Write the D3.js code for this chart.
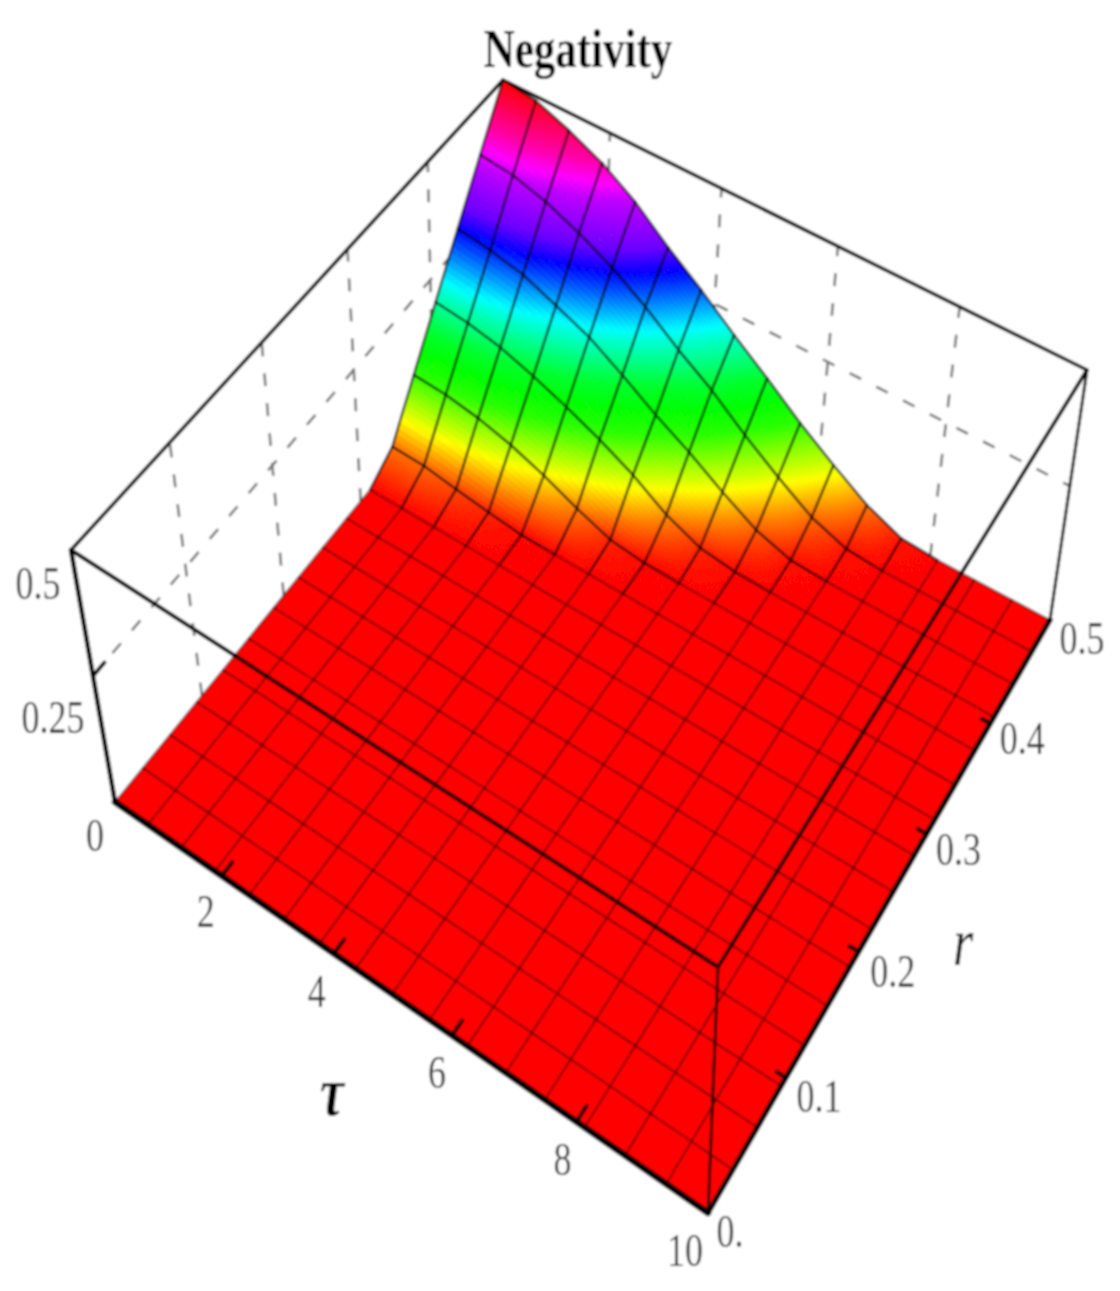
<!DOCTYPE html>
<html><head><meta charset="utf-8">
<script src="https://cdnjs.cloudflare.com/ajax/libs/d3/7.8.5/d3.min.js"></script>
<style>html,body{margin:0;padding:0;background:#fff}svg{display:block}</style>
</head><body><svg id="chart" width="1120" height="1291"></svg>
<script>
// ---- data ----
const title = "Negativity";
const tauTicks = [0, 2, 4, 6, 8, 10];
const rTicks = [0, 0.1, 0.2, 0.3, 0.4, 0.5];
const rTickLabels = ["0.", "0.1", "0.2", "0.3", "0.4", "0.5"];
const zTicks = [0, 0.25, 0.5];
const meshCells = 16;
// Negativity at mesh nodes; each row is one r mesh line, values run along tau 0..10
const rowFlat = [0,0,0,0,0,0,0,0,0,0,0,0,0,0,0,0,0];
const row11 = [.027,.025,.016,.008,.001,0,0,0,0,0,0,0,0,0,0,0,0];
const row12 = [.108,.104,.094,.078,.056,.03,.008,.001,0,0,0,0,0,0,0,0,0];
const row13 = [.195,.188,.175,.154,.13,.103,.072,.034,.009,.001,0,0,0,0,0,0,0];
const row14 = [.288,.278,.264,.237,.21,.171,.13,.095,.056,.022,.003,0,0,0,0,0,0];
const row15 = [.389,.381,.36,.33,.294,.25,.20,.157,.107,.064,.026,.004,0,0,0,0,0];
const row16 = [.50,.49,.46,.424,.376,.316,.264,.209,.16,.11,.067,.029,.004,0,0,0,0];
const rows = [rowFlat,rowFlat,rowFlat,rowFlat,rowFlat,rowFlat,rowFlat,rowFlat,rowFlat,rowFlat,rowFlat,row11,row12,row13,row14,row15,row16];
// colour legend implied by the surface: value -> hue
const hueStops = [0,.03,.067,.11,.16,.21,.264,.316,.376,.424,.5];
const hueValues = [0,30,70,110,130,170,220,265,285,320,360];

// ---- projection: box corners on the page ----
const floorQuad = [[115,802],[708,1213],[1050,620],[502,328]];   // (tau0,r0) (tau10,r0) (tau10,r.5) (tau0,r.5)
const roofQuad  = [[71,550],[718,967],[1087,370],[503,80]];
function homography(q){
  const [[x0,y0],[x1,y1],[x2,y2],[x3,y3]] = q;
  const dx1=x1-x2, dx2=x3-x2, sx=x0-x1+x2-x3, dy1=y1-y2, dy2=y3-y2, sy=y0-y1+y2-y3;
  const det=dx1*dy2-dx2*dy1;
  const g=(sx*dy2-dx2*sy)/det, h=(dx1*sy-sx*dy1)/det;
  const a=x1-x0+g*x1, b=x3-x0+h*x3, d=y1-y0+g*y1, e=y3-y0+h*y3;
  return (u,v)=>{const w=g*u+h*v+1; return [(a*u+b*v+x0)/w,(d*u+e*v+y0)/w];};
}
const hFloor = homography(floorQuad), hRoof = homography(roofQuad);
const tauScale = d3.scaleLinear().domain([0,10]).range([0,1]);
const rScale = d3.scaleLinear().domain([0,0.5]).range([0,1]);
const zScale = d3.scaleLinear().domain([0,0.5]).range([0,1]);
const hue = d3.scaleLinear().domain(hueStops).range(hueValues).clamp(true);
function project(t,r,z){
  const u=tauScale(t), v=rScale(r), s=zScale(z);
  const a=1+0.155*v, f=s*a/(s*a+(1-s));
  const p=hFloor(u,v), q=hRoof(u,v);
  return [p[0]+(q[0]-p[0])*f, p[1]+(q[1]-p[1])*f];
}
const meshTau = d3.range(meshCells+1).map(i=>10*i/meshCells);
const meshR = d3.range(meshCells+1).map(j=>0.5*j/meshCells);
const line = d3.line();
const svg = d3.select("#chart");
const defs = svg.append("defs");
defs.append("filter").attr("id","soft").attr("x",0).attr("y",0).attr("width",1).attr("height",1)
  .append("feGaussianBlur").attr("stdDeviation",0.9);
const root = svg.append("g").attr("filter","url(#soft)");
root.append("rect").attr("width",1120).attr("height",1291).attr("fill","#fff");

function edge(g,a,b,w,color,dash){
  g.append("path").attr("d",line([project(...a),project(...b)])).attr("fill","none")
   .attr("stroke",color||"#000").attr("stroke-width",w).attr("stroke-linecap",dash?"butt":"round")
   .attr("stroke-dasharray",dash||null);
}
// back walls: dashed gridlines
const back = root.append("g");
const dash = "13 17";
const dashW = 2.6, dashC = "#777";
rTicks.slice(1,5).forEach(r=>edge(back,[0,r,0],[0,r,.5],dashW,dashC,dash));
tauTicks.slice(1,5).forEach(t=>edge(back,[t,.5,0],[t,.5,.5],dashW,dashC,dash));
edge(back,[0,0,.25],[0,.5,.25],dashW,dashC,dash);
edge(back,[0,.5,.25],[10,.5,.25],dashW,dashC,dash);
// back top edges
edge(back,[0,0,.5],[0,.5,.5],3.6);
edge(back,[0,.5,.5],[10,.5,.5],3.6);
edge(back,[10,.5,0],[10,.5,.5],3);

// surface, painted from far to near
const surf = root.append("g");
const sub = 12;
function zAt(fi,fj){
  const i=Math.min(Math.floor(fi),meshCells-1), j=Math.min(Math.floor(fj),meshCells-1);
  const a=fi-i, b=fj-j;
  return (1-a)*(1-b)*rows[j][i]+a*(1-b)*rows[j][i+1]+(1-a)*b*rows[j+1][i]+a*b*rows[j+1][i+1];
}
const toPt=(fi,fj)=>project(10*fi/meshCells,0.5*fj/meshCells,zAt(fi,fj));
const colorOf=z=>d3.hsl(hue(z),1,.5).formatHex();
const quads=[];
for(let j=meshCells-1;j>=0;j--) for(let i=0;i<meshCells;i++){
  const maxZ=Math.max(rows[j][i],rows[j][i+1],rows[j+1][i],rows[j+1][i+1]);
  const n=maxZ>0?sub:1;
  for(let b=n-1;b>=0;b--) for(let a=0;a<n;a++){
    const i0=i+a/n,i1=i+(a+1)/n,j0=j+b/n,j1=j+(b+1)/n;
    quads.push({pts:[toPt(i0,j0),toPt(i1,j0),toPt(i1,j1),toPt(i0,j1)],
      c:colorOf(zAt((i0+i1)/2,(j0+j1)/2))});
  }
}
surf.selectAll("path").data(quads).join("path")
  .attr("d",d=>line(d.pts)+"Z").attr("fill",d=>d.c).attr("stroke",d=>d.c).attr("stroke-width",.7);

// mesh lines
const segs=[];
meshR.forEach((r,j)=>{for(let i=0;i<meshCells;i++) segs.push({a:[meshTau[i],r,rows[j][i]],b:[meshTau[i+1],r,rows[j][i+1]]});});
meshTau.forEach((t,i)=>{for(let j=0;j<meshCells;j++) segs.push({a:[t,meshR[j],rows[j][i]],b:[t,meshR[j+1],rows[j+1][i]]});});
root.append("g").selectAll("path").data(segs).join("path")
  .attr("d",d=>line([project(...d.a),project(...d.b)]))
  .attr("fill","none").attr("stroke","#000").attr("stroke-linecap","round")
  .attr("stroke-opacity",d=>Math.max(d.a[2],d.b[2])>0?.72:.6)
  .attr("stroke-width",d=>Math.max(d.a[2],d.b[2])>0?2.5:1.7);

// front box edges
const front=root.append("g");
edge(front,[0,0,.5],[10,0,.5],4);
edge(front,[10,0,.5],[10,.5,.5],3.8);
edge(front,[10,0,0],[10,0,.5],2.8);
edge(front,[0,0,0],[0,0,.5],4.6);
edge(front,[0,0,0],[10,0,0],6.5);
edge(front,[10,0,0],[10,.5,0],5.5);
tauTicks.slice(1,5).forEach(t=>edge(front,[t,0,0],[t,.012,0],4));
rTicks.slice(1,5).forEach(r=>edge(front,[10,r,0],[9.86,r,0],4));
edge(front,[0,0,.25],[0,.012,.25],4);

// text (the original is stretched vertically)
const yStretch=1.3;
function label(x,y,s,size,opts={}){
  root.append("g").attr("transform",`translate(${x},${y}) scale(1,${yStretch})`)
    .append("text").attr("text-anchor","middle").attr("font-family","'Liberation Serif',serif")
    .attr("font-size",size).attr("font-weight",opts.weight||"normal").attr("font-style",opts.style||"normal")
    .attr("fill",opts.fill||"#333").text(s);
}
const numSize=36;
const digitHalf=numSize*.676*yStretch/2;
const tauOff=[[-20,33],[-16,35],[-17,37],[-15,37],[-14,37],[-23,37]];
tauTicks.forEach((t,k)=>{const p=project(t,0,0);label(p[0]+tauOff[k][0],p[1]+tauOff[k][1]+digitHalf,String(t),numSize);});
const rOff=[[22,18],[33,18],[34,19],[32,15],[32,15],[32,18]];
rTicks.forEach((r,k)=>{const p=project(10,r,0);label(p[0]+rOff[k][0],p[1]+rOff[k][1]+digitHalf,rTickLabels[k],numSize);});
label(project(0,0,.25)[0]-40,project(0,0,.25)[1]+41+digitHalf,"0.25",numSize);
label(project(0,0,.5)[0]-33,project(0,0,.5)[1]+33+digitHalf,"0.5",numSize);
label(578,67,title,43,{weight:"bold",fill:"#000"});
label(332,1115,"τ",54,{weight:"bold",style:"italic",fill:"#000"});
label(963,965,"r",52,{style:"italic",fill:"#111"});
</script></body></html>
